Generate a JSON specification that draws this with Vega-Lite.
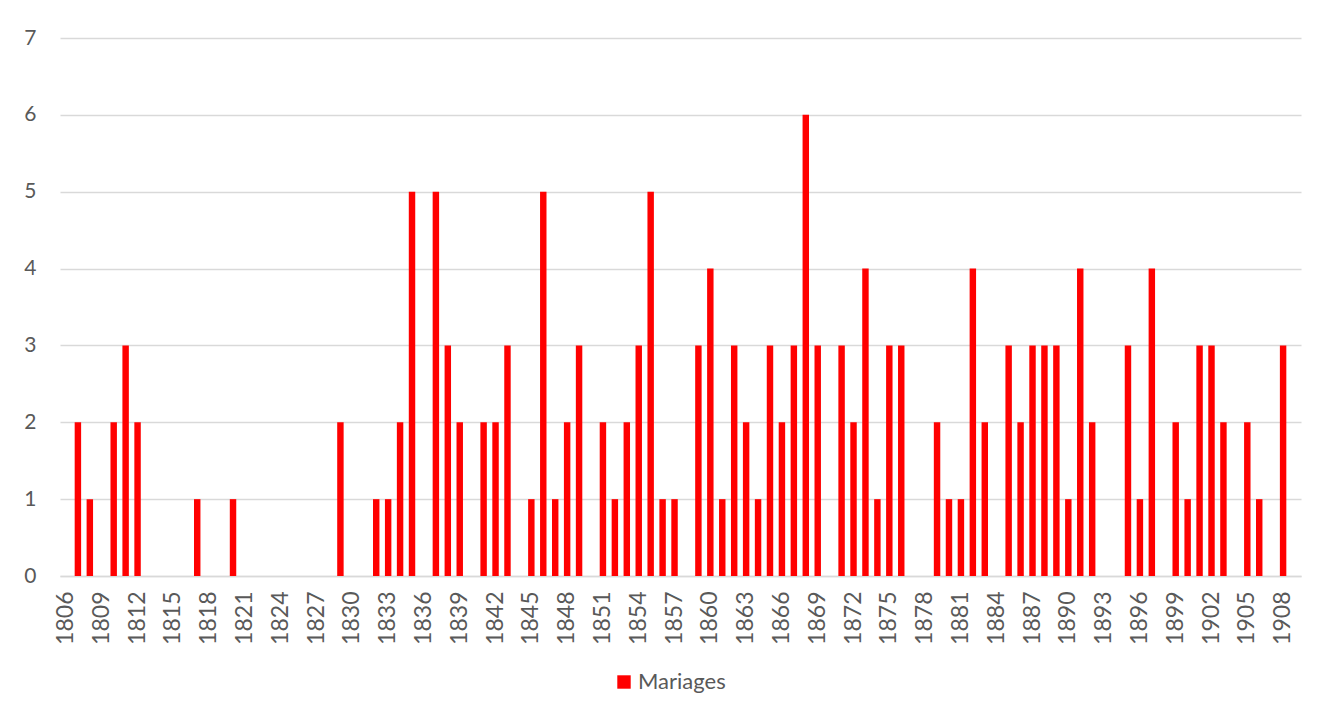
{
  "$schema": "https://vega.github.io/schema/vega-lite/v6.json",
  "width": 1241,
  "height": 538,
  "autosize": {"type": "none"},
  "padding": {"left": 60, "top": 38, "right": 37, "bottom": 139},
  "background": "#ffffff",
  "data": {
    "values": [
      {"year": 1806, "mariages": 0}, {"year": 1807, "mariages": 2}, {"year": 1808, "mariages": 1},
      {"year": 1809, "mariages": 0}, {"year": 1810, "mariages": 2}, {"year": 1811, "mariages": 3},
      {"year": 1812, "mariages": 2}, {"year": 1813, "mariages": 0}, {"year": 1814, "mariages": 0},
      {"year": 1815, "mariages": 0}, {"year": 1816, "mariages": 0}, {"year": 1817, "mariages": 1},
      {"year": 1818, "mariages": 0}, {"year": 1819, "mariages": 0}, {"year": 1820, "mariages": 1},
      {"year": 1821, "mariages": 0}, {"year": 1822, "mariages": 0}, {"year": 1823, "mariages": 0},
      {"year": 1824, "mariages": 0}, {"year": 1825, "mariages": 0}, {"year": 1826, "mariages": 0},
      {"year": 1827, "mariages": 0}, {"year": 1828, "mariages": 0}, {"year": 1829, "mariages": 2},
      {"year": 1830, "mariages": 0}, {"year": 1831, "mariages": 0}, {"year": 1832, "mariages": 1},
      {"year": 1833, "mariages": 1}, {"year": 1834, "mariages": 2}, {"year": 1835, "mariages": 5},
      {"year": 1836, "mariages": 0}, {"year": 1837, "mariages": 5}, {"year": 1838, "mariages": 3},
      {"year": 1839, "mariages": 2}, {"year": 1840, "mariages": 0}, {"year": 1841, "mariages": 2},
      {"year": 1842, "mariages": 2}, {"year": 1843, "mariages": 3}, {"year": 1844, "mariages": 0},
      {"year": 1845, "mariages": 1}, {"year": 1846, "mariages": 5}, {"year": 1847, "mariages": 1},
      {"year": 1848, "mariages": 2}, {"year": 1849, "mariages": 3}, {"year": 1850, "mariages": 0},
      {"year": 1851, "mariages": 2}, {"year": 1852, "mariages": 1}, {"year": 1853, "mariages": 2},
      {"year": 1854, "mariages": 3}, {"year": 1855, "mariages": 5}, {"year": 1856, "mariages": 1},
      {"year": 1857, "mariages": 1}, {"year": 1858, "mariages": 0}, {"year": 1859, "mariages": 3},
      {"year": 1860, "mariages": 4}, {"year": 1861, "mariages": 1}, {"year": 1862, "mariages": 3},
      {"year": 1863, "mariages": 2}, {"year": 1864, "mariages": 1}, {"year": 1865, "mariages": 3},
      {"year": 1866, "mariages": 2}, {"year": 1867, "mariages": 3}, {"year": 1868, "mariages": 6},
      {"year": 1869, "mariages": 3}, {"year": 1870, "mariages": 0}, {"year": 1871, "mariages": 3},
      {"year": 1872, "mariages": 2}, {"year": 1873, "mariages": 4}, {"year": 1874, "mariages": 1},
      {"year": 1875, "mariages": 3}, {"year": 1876, "mariages": 3}, {"year": 1877, "mariages": 0},
      {"year": 1878, "mariages": 0}, {"year": 1879, "mariages": 2}, {"year": 1880, "mariages": 1},
      {"year": 1881, "mariages": 1}, {"year": 1882, "mariages": 4}, {"year": 1883, "mariages": 2},
      {"year": 1884, "mariages": 0}, {"year": 1885, "mariages": 3}, {"year": 1886, "mariages": 2},
      {"year": 1887, "mariages": 3}, {"year": 1888, "mariages": 3}, {"year": 1889, "mariages": 3},
      {"year": 1890, "mariages": 1}, {"year": 1891, "mariages": 4}, {"year": 1892, "mariages": 2},
      {"year": 1893, "mariages": 0}, {"year": 1894, "mariages": 0}, {"year": 1895, "mariages": 3},
      {"year": 1896, "mariages": 1}, {"year": 1897, "mariages": 4}, {"year": 1898, "mariages": 0},
      {"year": 1899, "mariages": 2}, {"year": 1900, "mariages": 1}, {"year": 1901, "mariages": 3},
      {"year": 1902, "mariages": 3}, {"year": 1903, "mariages": 2}, {"year": 1904, "mariages": 0},
      {"year": 1905, "mariages": 2}, {"year": 1906, "mariages": 1}, {"year": 1907, "mariages": 0},
      {"year": 1908, "mariages": 3}, {"year": 1909, "mariages": 0}
    ]
  },
  "mark": {"type": "bar"},
  "encoding": {
    "x": {
      "field": "year",
      "type": "ordinal",
      "scale": {"paddingInner": 0.46, "paddingOuter": 0.23},
      "axis": {
        "title": null,
        "values": [1806, 1809, 1812, 1815, 1818, 1821, 1824, 1827, 1830, 1833, 1836, 1839, 1842, 1845, 1848, 1851, 1854, 1857, 1860, 1863, 1866, 1869, 1872, 1875, 1878, 1881, 1884, 1887, 1890, 1893, 1896, 1899, 1902, 1905, 1908],
        "labelAngle": -90,
        "labelPadding": 15,
        "ticks": false,
        "tickSize": 0,
        "domain": true,
        "domainColor": "#d9d9d9",
        "domainWidth": 1.3,
        "grid": false,
        "labelFont": "Lato",
        "labelFontSize": 23,
        "labelColor": "#595959"
      }
    },
    "y": {
      "field": "mariages",
      "type": "quantitative",
      "scale": {"domain": [0, 7]},
      "axis": {
        "title": null,
        "values": [0, 1, 2, 3, 4, 5, 6, 7],
        "domain": false,
        "ticks": false,
        "tickSize": 0,
        "labelPadding": 24,
        "grid": true,
        "gridColor": "#d9d9d9",
        "gridWidth": 1.3,
        "labelFont": "Lato",
        "labelFontSize": 21,
        "labelColor": "#595959"
      }
    },
    "color": {
      "datum": "Mariages",
      "scale": {"range": ["#ff0000"]},
      "legend": {
        "title": null,
        "orient": "none",
        "legendX": 553,
        "legendY": 633,
        "symbolType": "square",
        "symbolSize": 180,
        "symbolStrokeWidth": 0,
        "labelFont": "Lato",
        "labelFontSize": 22,
        "labelColor": "#595959",
        "labelOffset": 3
      }
    }
  },
  "config": {
    "view": {"stroke": null}
  }
}
